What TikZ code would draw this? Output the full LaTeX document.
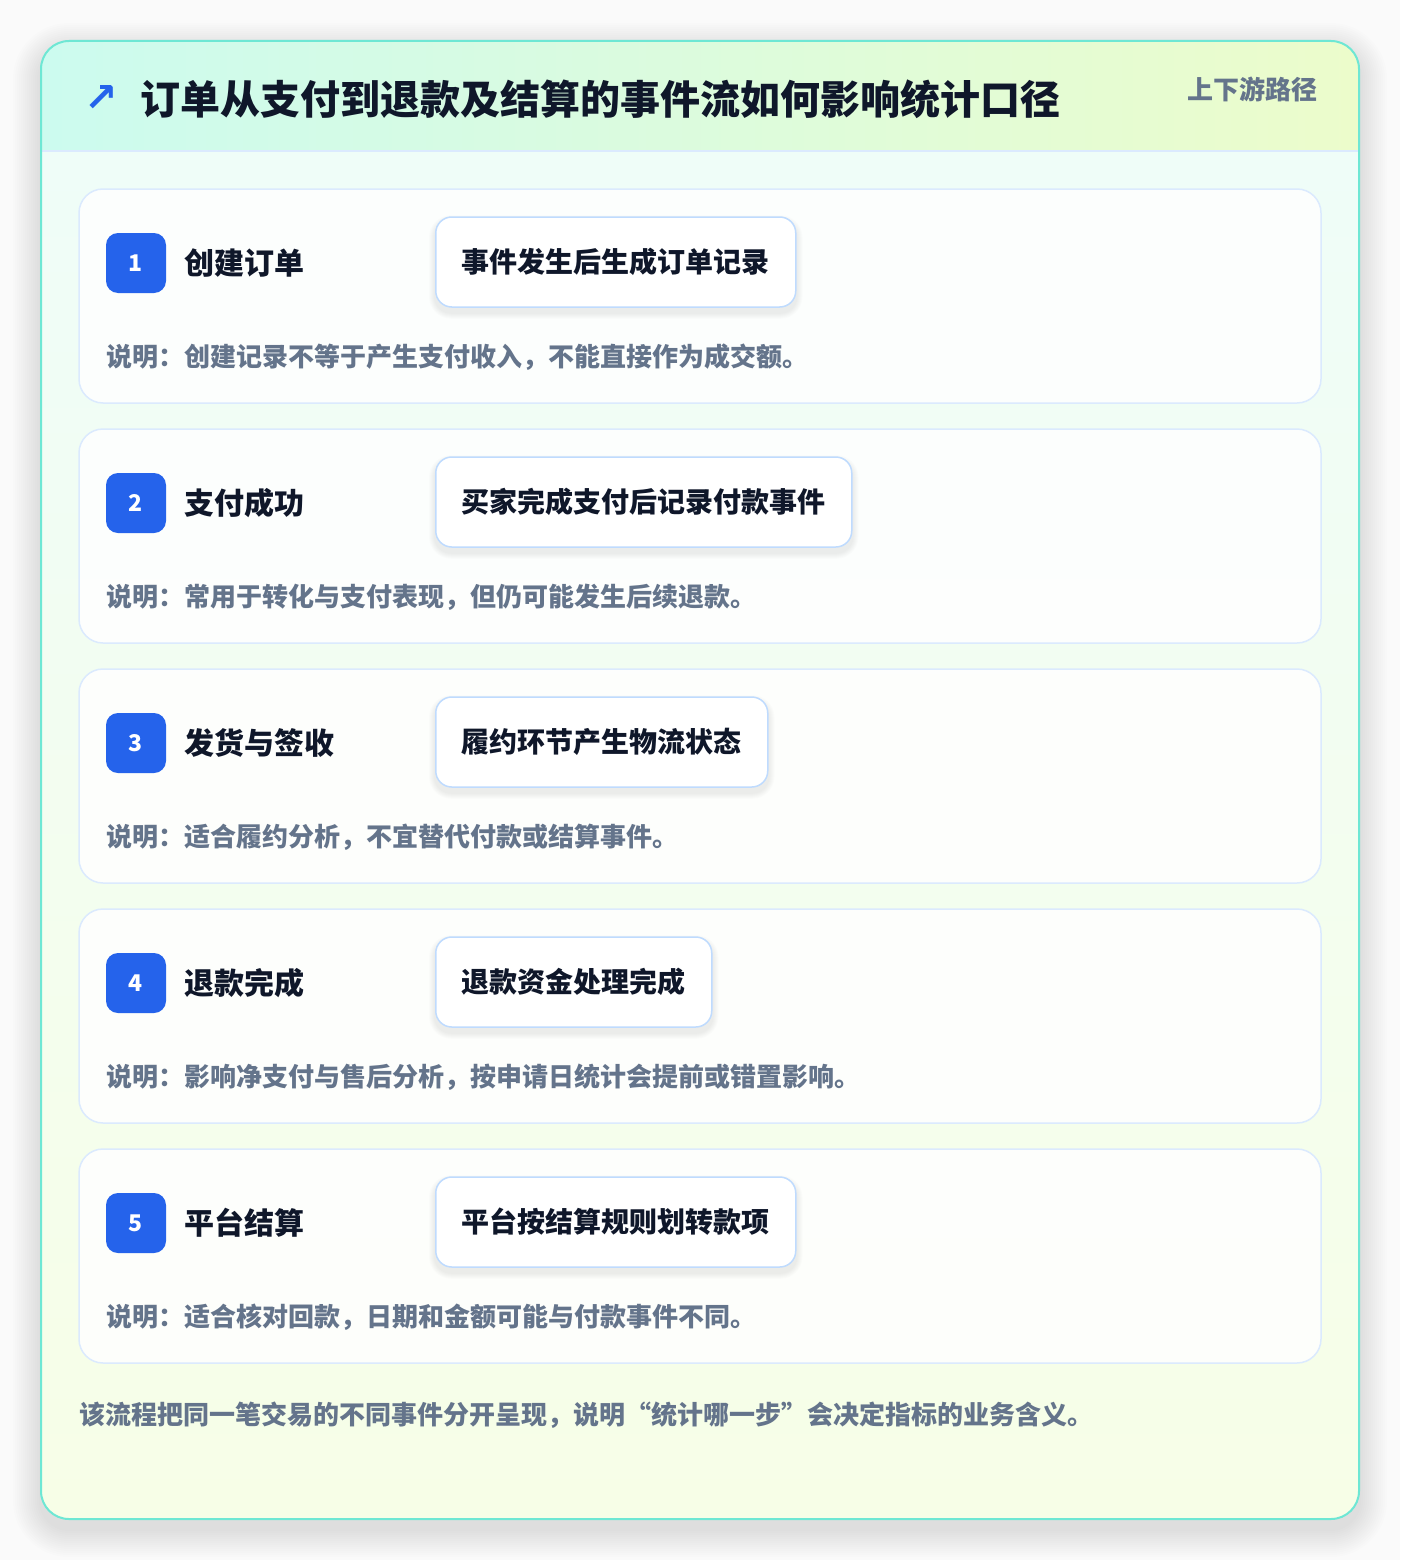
\documentclass[tikz,border=0pt]{standalone}
\usepackage{fontspec}
\setmainfont{Noto Sans CJK SC}
\newfontfamily\symfont{DejaVu Sans}
\definecolor{pagebg}{HTML}{FAFAFA}
\definecolor{tealborder}{HTML}{6EE7D4}
\definecolor{headl}{HTML}{CCFBEF}
\definecolor{headr}{HTML}{ECFCCB}
\definecolor{bodyt}{HTML}{EFFDF8}
\definecolor{bodyb}{HTML}{F7FEE7}
\definecolor{cardline}{HTML}{DBEAFE}
\definecolor{evline}{HTML}{BFDBFE}
\definecolor{badgeblue}{HTML}{2563EB}
\definecolor{ink}{HTML}{0F172A}
\definecolor{muted}{HTML}{64748B}
\tikzset{
  cardbox/.style={draw=cardline, line width=1.5pt, fill=white, fill opacity=0.85, rounded corners=24pt, minimum width=1242pt, minimum height=214pt, inner sep=0pt},
  badge/.style={fill=badgeblue, rounded corners=12pt, minimum width=60pt, minimum height=60pt, inner sep=0pt, text=white, font=\fontsize{23}{26}\selectfont\bfseries},
  steptitle/.style={anchor=west, inner sep=0pt, text=ink, font=\fontsize{30}{36}\selectfont\bfseries},
  eventbox/.style={anchor=west, draw=evline, line width=1.5pt, fill=white, rounded corners=16pt, minimum height=90pt, inner xsep=26pt, text=ink, font=\fontsize{28}{34}\selectfont\bfseries},
  notetext/.style={anchor=west, inner sep=0pt, text=muted, font=\fontsize{26}{30}\selectfont\bfseries},
}
\begin{document}
\begin{tikzpicture}[x=1pt, y=-1pt]
\useasboundingbox[fill=pagebg] (0,0) rectangle (1400,1560);
% soft outer shadow
\foreach \k in {1,...,14} {
  \fill[black, opacity=0.006, rounded corners=28pt+2*\k pt] (41-2*\k,41-2*\k+10) rectangle (1359+2*\k,1519+2*\k+10);
}
\begin{scope}
  \clip[rounded corners=28pt] (41,41) rectangle (1359,1519);
  \shade[top color=bodyt, bottom color=bodyb] (41,151) rectangle (1359,1519);
  \shade[left color=headl, right color=headr] (41,41) rectangle (1359,151);
  \draw[cardline, line width=1.5pt] (41,151) -- (1359,151);
\end{scope}
\node[draw=tealborder, line width=2pt, rounded corners=28pt, minimum width=1318pt, minimum height=1478pt, inner sep=0pt] (outer) at (700,780) {};
% header
\node[text=badgeblue, inner sep=0pt, font=\symfont\fontsize{40}{44}\selectfont\bfseries] (icon) at (101,99) {↗};
\node[anchor=west, inner sep=0pt, text=ink, font=\fontsize{40}{48}\selectfont\bfseries] (title) at (140,99) {订单从支付到退款及结算的事件流如何影响统计口径};
\node[anchor=east, inner sep=0pt, text=muted, font=\fontsize{26}{30}\selectfont\bfseries] (tag) at (1318,89) {上下游路径};
% steps
\foreach \i/\t/\e/\n in {
  1/{创建订单}/{事件发生后生成订单记录}/{说明：创建记录不等于产生支付收入，不能直接作为成交额。},
  2/{支付成功}/{买家完成支付后记录付款事件}/{说明：常用于转化与支付表现，但仍可能发生后续退款。},
  3/{发货与签收}/{履约环节产生物流状态}/{说明：适合履约分析，不宜替代付款或结算事件。},
  4/{退款完成}/{退款资金处理完成}/{说明：影响净支付与售后分析，按申请日统计会提前或错置影响。},
  5/{平台结算}/{平台按结算规则划转款项}/{说明：适合核对回款，日期和金额可能与付款事件不同。}} {
  \pgfmathsetmacro\top{189+(\i-1)*240}
  \node[cardbox] (card\i) at (700,\top+107) {};
  \node[badge] (badge\i) at (136,\top+74) {\i};
  \node[steptitle] (title\i) at (184,\top+74) {\t};
  \node[eventbox, draw=none, fill=none, text=white, opacity=0] (ghost\i) at (435,\top+73) {\e};
  \foreach \k in {1,...,6} {
    \fill[black, opacity=0.012, rounded corners=16pt+\k pt] ([xshift=-\k pt, yshift=-\k pt-5pt]ghost\i.south west) rectangle ([xshift=\k pt, yshift=\k pt-5pt]ghost\i.north east);
  }
  \node[eventbox] (event\i) at (435,\top+73) {\e};
  \node[notetext] (note\i) at (106,\top+168) {\n};
}
% footer
\node[anchor=west, inner sep=0pt, text=muted, font=\fontsize{26}{30}\selectfont\bfseries] (footer) at (79,1415) {该流程把同一笔交易的不同事件分开呈现，说明“统计哪一步”会决定指标的业务含义。};
\end{tikzpicture}
\end{document}
